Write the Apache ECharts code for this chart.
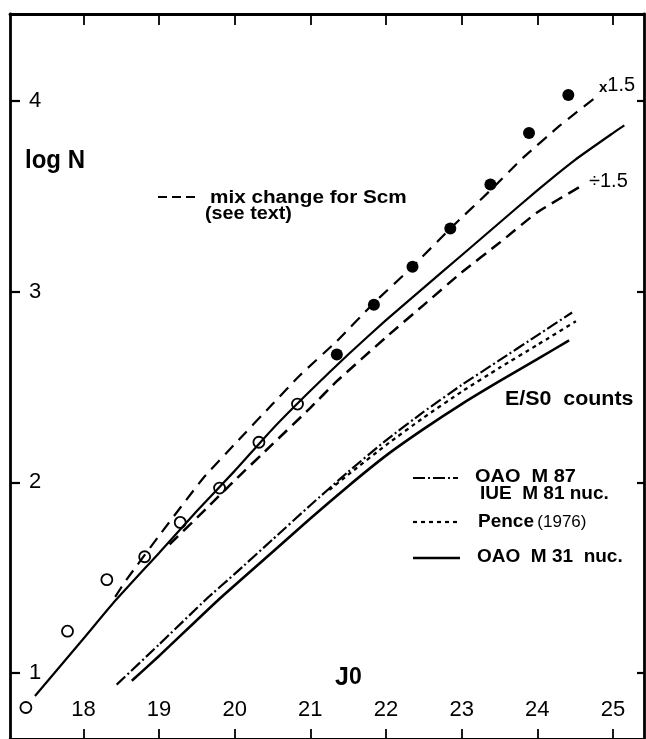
<!DOCTYPE html>
<html>
<head>
<meta charset="utf-8" />
<title>log N versus J0</title>
<script src="https://cdn.jsdelivr.net/npm/echarts@6.0.0/dist/echarts.min.js"></script>
<style>
  html, body { margin: 0; padding: 0; background: #fff; }
  #main { width: 646px; height: 739px; }
</style>
</head>
<body>
<div id="main"></div>
<script type="text/javascript">
// tick values on the frame
var xTicks = [18, 19, 20, 21, 22, 23, 24, 25];
var yTicks = [1, 2, 3, 4];

// galaxy counts: open circles (faint end) and filled dots
var openPoints = [[17.24, 0.82], [17.79, 1.22], [18.31, 1.49], [18.81, 1.61],
  [19.28, 1.79], [19.80, 1.97], [20.32, 2.21], [20.83, 2.41]];
var filledPoints = [[21.35, 2.67], [21.84, 2.93], [22.35, 3.13], [22.85, 3.33],
  [23.38, 3.56], [23.89, 3.83], [24.41, 4.03]];

// Scm model, and the dashed x1.5 / ÷1.5 curves
var scmMain = [[17.36, 0.88], [18.0, 1.18], [18.4, 1.37], [19.0, 1.63], [19.5, 1.85],
  [20.0, 2.06], [20.5, 2.28], [21.0, 2.48], [21.5, 2.67], [22.0, 2.85], [22.5, 3.02],
  [23.0, 3.19], [23.5, 3.36], [24.0, 3.53], [24.5, 3.69], [25.0, 3.83], [25.15, 3.87]];
var scmHigh = [[18.42, 1.40], [18.57, 1.49], [19.0, 1.72], [19.58, 2.02], [20.0, 2.20],
  [20.5, 2.41], [20.86, 2.56], [21.35, 2.74], [21.84, 2.94], [22.35, 3.13], [22.85, 3.33],
  [23.38, 3.53], [23.81, 3.70], [24.3, 3.87], [24.78, 4.02]];
var scmLow = [[19.14, 1.675], [19.67, 1.88], [20.0, 2.01], [20.5, 2.20], [21.0, 2.39],
  [21.35, 2.53], [22.0, 2.76], [22.5, 2.93], [23.0, 3.10], [23.5, 3.255], [24.0, 3.415],
  [24.59, 3.555]];

// E/S0 count predictions
var oaoM87 = [[18.44, 0.94], [19.0, 1.15], [19.63, 1.39], [20.0, 1.52], [20.5, 1.70],
  [21.0, 1.88], [21.5, 2.055], [22.0, 2.22], [22.5, 2.37], [23.0, 2.51], [23.5, 2.64],
  [24.0, 2.77], [24.46, 2.89]];
var pence = [[21.25, 1.96], [21.5, 2.04], [22.0, 2.195], [22.5, 2.34], [23.0, 2.475],
  [23.5, 2.60], [24.0, 2.72], [24.51, 2.844]];
var oaoM31 = [[18.64, 0.96], [19.0, 1.09], [19.8, 1.39], [20.5, 1.635], [21.0, 1.81],
  [21.5, 1.98], [22.0, 2.14], [22.5, 2.28], [23.0, 2.41], [23.5, 2.53], [24.0, 2.645],
  [24.42, 2.744]];

var ink = '#000';
var fam = '"Liberation Sans", Arial, sans-serif';

function curve(data, width, dash) {
  return {
    type: 'line', data: data, symbol: 'none', smooth: 0.15, silent: true,
    lineStyle: { color: ink, width: width, type: dash || 'solid' }
  };
}

function frameX(pos, tickLen, showLabel) {
  return {
    type: 'value', position: pos, min: 17.03, max: 25.41,
    axisLine: { onZero: false, lineStyle: { color: ink, width: 2.8 } },
    axisTick: { inside: true, length: tickLen, customValues: xTicks,
      lineStyle: { color: ink, width: 1.8 } },
    axisLabel: { show: showLabel, inside: true, margin: 18, customValues: xTicks,
      color: ink, fontSize: 22, fontFamily: fam },
    splitLine: { show: false }
  };
}

function frameY(pos, tickLen, showLabel) {
  return {
    type: 'value', position: pos, min: 0.655, max: 4.454,
    axisLine: { onZero: false, lineStyle: { color: ink, width: 2.8 } },
    axisTick: { inside: true, length: tickLen, customValues: yTicks,
      lineStyle: { color: ink, width: 2.2 } },
    axisLabel: { show: showLabel, inside: true, margin: 19, customValues: yTicks,
      color: ink, fontSize: 22, fontFamily: fam },
    splitLine: { show: false }
  };
}

function txt(x, y, text, font, extra) {
  var el = {
    type: 'text', x: x, y: y, silent: true,
    style: { text: text, font: font, fill: ink,
      align: 'left', verticalAlign: 'middle',
      textAlign: 'left', textVerticalAlign: 'middle' }
  };
  if (extra) { for (var k in extra) el[k] = extra[k]; }
  return el;
}

function key(x1, x2, y, width, dash) {
  return {
    type: 'line', silent: true,
    shape: { x1: x1, y1: y, x2: x2, y2: y },
    style: { stroke: ink, lineWidth: width, lineDash: dash || null }
  };
}

var myChart = echarts.init(document.getElementById('main'));

var option = {
  animation: false,
  backgroundColor: '#fff',
  grid: { left: 10, top: 14, width: 634, height: 726 },
  xAxis: [frameX('bottom', 10, true), frameX('top', 11, false)],
  yAxis: [frameY('left', 10, true), frameY('right', 7, false)],
  series: [
    curve(scmMain, 2.2),
    curve(scmHigh, 2.2, [12, 8]),
    curve(scmLow, 2.5, [12, 7]),
    curve(oaoM87, 2.2, [12, 3, 2, 3]),
    curve(pence, 2.3, [4, 4]),
    curve(oaoM31, 2.6),
    {
      type: 'scatter', data: openPoints, symbol: 'circle', symbolSize: 11, z: 5,
      itemStyle: { color: 'rgba(0,0,0,0)', borderColor: ink, borderWidth: 1.8, opacity: 1 }
    },
    {
      type: 'scatter', data: filledPoints, symbol: 'circle', symbolSize: 12, z: 5,
      itemStyle: { color: ink, opacity: 1 }
    }
  ],
  graphic: [
    txt(25, 161, 'log N', 'bold 24px ' + fam, { scaleY: 1.08, originY: 0 }),
    key(158, 197, 197, 2.2, [9, 5]),
    txt(210, 198, 'mix change for Scm', 'bold 18px ' + fam, { scaleX: 1.15 }),
    txt(205, 214, '(see text)', 'bold 18px ' + fam, { scaleX: 1.1 }),
    {
      type: 'text', x: 599, y: 85, silent: true,
      style: {
        text: '{s|x}{n|1.5}', fill: ink, verticalAlign: 'middle', textVerticalAlign: 'middle',
        rich: {
          s: { font: 'bold 15px ' + fam, fill: ink, verticalAlign: 'bottom' },
          n: { font: '20px ' + fam, fill: ink }
        }
      }
    },
    txt(589, 181, '\u00f71.5', '20px ' + fam),
    txt(505, 399, 'E/S0  counts', 'bold 20px ' + fam, { scaleX: 1.07 }),
    key(413, 458, 478, 2.2, [12, 3, 2, 3]),
    txt(475, 477, 'OAO  M 87', 'bold 19px ' + fam, { scaleX: 1.05 }),
    txt(480, 494, 'IUE  M 81 nuc.', 'bold 19px ' + fam),
    key(413, 460, 522, 2.2, [4, 4]),
    {
      type: 'text', x: 478, y: 522, silent: true,
      style: {
        text: '{b|Pence} {r|(1976)}', fill: ink, verticalAlign: 'middle', textVerticalAlign: 'middle',
        rich: {
          b: { font: 'bold 19px ' + fam, fill: ink },
          r: { font: '17px ' + fam, fill: ink }
        }
      }
    },
    key(413, 460, 558, 2.6),
    txt(477, 557, 'OAO  M 31  nuc.', 'bold 19px ' + fam),
    {
      type: 'text', x: 335, y: 678, silent: true,
      style: {
        text: '{j|J}{o|0}', fill: ink, verticalAlign: 'middle', textVerticalAlign: 'middle',
        rich: {
          j: { font: 'bold 25px ' + fam, fill: ink },
          o: { font: 'bold 23px "Liberation Sans Narrow", ' + fam, fill: ink }
        }
      }
    }
  ]
};

myChart.setOption(option);
</script>
</body>
</html>
